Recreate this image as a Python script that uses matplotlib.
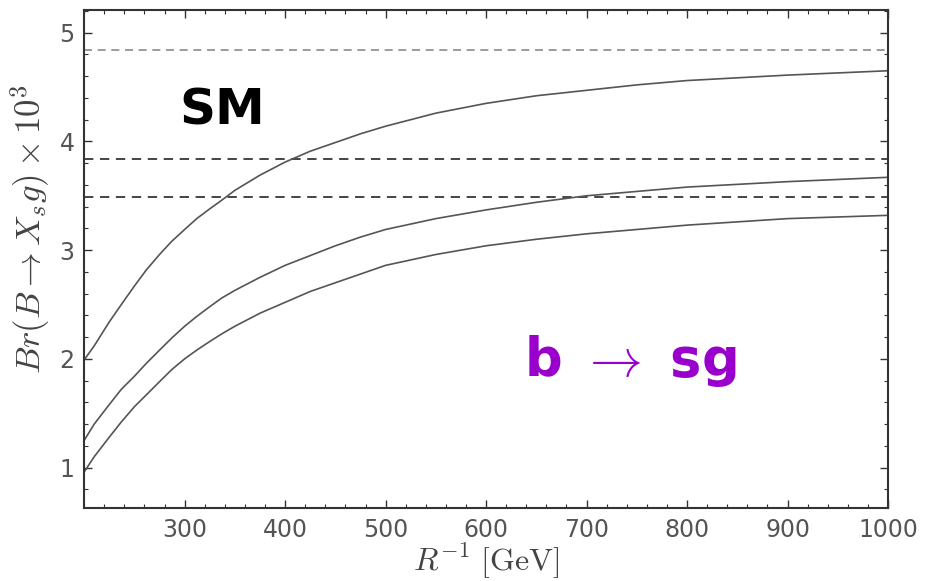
import numpy as np
import matplotlib.pyplot as plt
from matplotlib.ticker import MultipleLocator

plt.rcParams['mathtext.fontset'] = 'cm'

# inverse compactification radius [GeV]
r_inv = [200, 210, 225, 237, 250, 262, 275, 287, 300, 312, 325, 337, 350, 375, 400,
         425, 450, 475, 500, 550, 600, 650, 700, 750, 800, 900, 1000]

# Br(B -> X_s g) x 10^3 for the three curves
br_upper = [1.99, 2.12, 2.34, 2.50, 2.67, 2.82, 2.96, 3.08, 3.19, 3.29, 3.38, 3.46, 3.55, 3.69, 3.81,
            3.91, 3.99, 4.07, 4.14, 4.26, 4.35, 4.42, 4.47, 4.52, 4.56, 4.61, 4.65]
br_middle = [1.25, 1.40, 1.58, 1.72, 1.84, 1.96, 2.08, 2.19, 2.30, 2.39, 2.48, 2.56, 2.63, 2.75, 2.86,
             2.95, 3.04, 3.12, 3.19, 3.29, 3.37, 3.44, 3.50, 3.54, 3.58, 3.63, 3.67]
br_lower = [0.96, 1.10, 1.28, 1.42, 1.56, 1.67, 1.79, 1.90, 2.00, 2.08, 2.16, 2.23, 2.30, 2.42, 2.52,
            2.62, 2.70, 2.78, 2.86, 2.96, 3.04, 3.10, 3.15, 3.19, 3.23, 3.29, 3.32]

# horizontal reference levels
sm_levels = [4.84, 3.84, 3.49]
level_colors = ['#8a8a8a', '#444444', '#444444']
level_widths = [1.2, 1.4, 1.4]

fig = plt.figure(figsize=(9.25, 5.81), dpi=100)
ax = fig.add_axes([0.091, 0.126, 0.869, 0.857])

for y, c, w in zip(sm_levels, level_colors, level_widths):
    ax.axhline(y, color=c, lw=w, ls=(0, (4.8, 3.4)))

for ys in (br_upper, br_middle, br_lower):
    ax.plot(r_inv, ys, color='#555555', lw=1.2)

ax.set_xlim(200, 1000)
ax.set_ylim(0.63, 5.21)
ax.xaxis.set_major_locator(MultipleLocator(100))
ax.xaxis.set_minor_locator(MultipleLocator(20))
ax.yaxis.set_major_locator(MultipleLocator(1))
ax.yaxis.set_minor_locator(MultipleLocator(0.2))
ax.set_xticks([300, 400, 500, 600, 700, 800, 900, 1000])

ax.tick_params(which='both', direction='in', top=True, right=True,
               color='#333333', labelcolor='#555555', labelsize=17)
ax.tick_params(which='major', length=6, width=1.0, pad=7)
ax.tick_params(which='minor', length=3, width=0.8)
for s in ax.spines.values():
    s.set_color('#333333')
    s.set_linewidth(1.5)

ax.set_xlabel(r'$R^{-1}\ [\mathrm{GeV}]$', fontsize=23, color='#444444', labelpad=0)
ax.set_ylabel(r'$Br(B\rightarrow X_s g)\times 10^3$', fontsize=25, color='#444444')
ax.yaxis.set_label_coords(-0.040, 0.56)

ax.text(337, 4.28, 'SM', fontsize=36, fontweight='bold', color='black',
        ha='center', va='center', family='DejaVu Sans')
ax.text(744, 1.98, r'b $\rightarrow$ sg', fontsize=38, fontweight='bold', color='#9900cc',
        ha='center', va='center', family='DejaVu Sans')

fig.savefig('out.png', dpi=100)
